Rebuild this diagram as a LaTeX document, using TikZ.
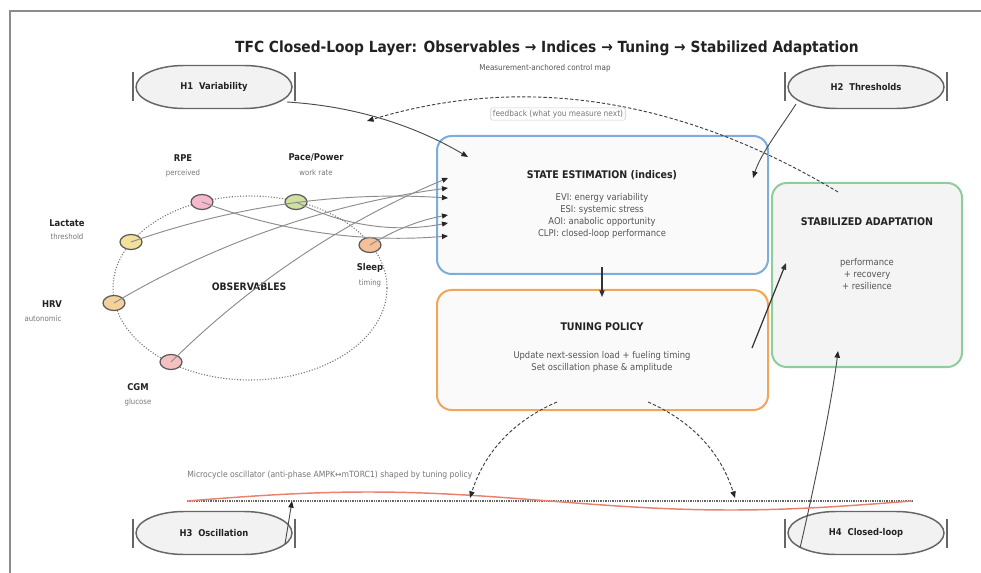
\documentclass[tikz,border=0pt]{standalone}
\usepackage{fontspec}
\setmainfont{DejaVu Sans Condensed}
\usetikzlibrary{arrows.meta,shapes.geometric}
\definecolor{txtdark}{HTML}{222222}
\definecolor{txtmid}{HTML}{555555}
\definecolor{txtlight}{HTML}{777777}
\definecolor{seblue}{HTML}{7DAEDB}
\definecolor{tporange}{HTML}{F2A65A}
\definecolor{sagreen}{HTML}{8FCE9C}
\definecolor{boxfill}{HTML}{FAFAFA}
\definecolor{safill}{HTML}{F4F4F4}
\definecolor{pillfill}{HTML}{F2F2F2}
\definecolor{pilldraw}{HTML}{666666}
\definecolor{cRPE}{HTML}{F5B8CC}
\definecolor{cPace}{HTML}{CFE0A0}
\definecolor{cLac}{HTML}{F3E09A}
\definecolor{cHRV}{HTML}{F4D09A}
\definecolor{cCGM}{HTML}{F5C0C0}
\definecolor{cSlp}{HTML}{F5BF98}
\definecolor{oscred}{HTML}{E8826E}
\tikzset{
  frameline/.style={draw=black!45, line width=1.5pt},
  bigbox/.style={rectangle, rounded corners=11pt, line width=1.5pt, fill=boxfill, inner sep=0pt},
  hpill/.style={draw=pilldraw, fill=pillfill, line width=1.1pt},
  hbar/.style={draw=pilldraw, line width=0.9pt},
  hlabel/.style={font=\fontsize{7}{8}\selectfont\bfseries, text=txtdark, inner sep=1pt},
  obscirc/.style={ellipse, draw=black!65, line width=0.9pt, minimum width=16.5pt, minimum height=11.25pt, inner sep=0pt},
  obslab/.style={font=\fontsize{7}{8}\selectfont\bfseries, text=txtdark, inner sep=0pt},
  obssub/.style={font=\fontsize{5.8}{7}\selectfont, text=txtlight, inner sep=0pt},
  boxtitle/.style={font=\fontsize{7.9}{9}\selectfont\bfseries, text=txtdark, inner sep=0pt},
  boxbody/.style={font=\fontsize{7}{9}\selectfont, text=txtmid, align=center, inner sep=0pt},
  obsline/.style={draw=black!45, line width=0.7pt, -{Triangle[length=4.5pt,width=3.8pt,color=black!85]}},
  mainarrow/.style={draw=black!80, line width=0.9pt, -{Triangle[length=5pt,width=4pt]}},
  thinarrow/.style={draw=black!70, line width=0.7pt, -{Triangle[length=5pt,width=4pt,color=black!85]}},
  dasharrow/.style={draw=black!75, line width=0.7pt, dash pattern=on 2.5pt off 1.5pt, -{Triangle[length=5pt,width=4pt,color=black!85]}},
  dottedring/.style={draw=black!55, line width=0.8pt, dash pattern=on 0.8pt off 1.3pt},
}
\newcommand\Hpill[4]{%
  \draw[hpill] ({#2-30},{#3-21.5}) -- ({#2+30},{#3-21.5})
     arc[start angle=90,end angle=-90,x radius=36pt,y radius=16.125pt]
     -- ({#2-30},{#3+21.5})
     arc[start angle=270,end angle=90,x radius=36pt,y radius=16.125pt] -- cycle;
  \draw[hbar] ({#2-81},{#3-14.5}) -- ({#2-81},{#3+14.5});
  \draw[hbar] ({#2+81},{#3-14.5}) -- ({#2+81},{#3+14.5});
  \node[hlabel] (#1) at (#2,#3) {#4};
}
\begin{document}
\begin{tikzpicture}[x=0.75pt,y=-0.75pt]
\useasboundingbox (0,0) rectangle (981,573);
\fill[white] (0,0) rectangle (981,573);
\draw[frameline] (10,573) -- (10,11) -- (981,11);

% title
\node[font=\fontsize{11.5}{13}\selectfont\bfseries, text=txtdark, inner sep=0pt] (title) at (547,48)
  {TFC Closed-Loop Layer: Observables → Indices → Tuning → Stabilized Adaptation};
\node[font=\fontsize{6}{7}\selectfont, text=txtmid, inner sep=0pt] (subtitle) at (545,68) {Measurement-anchored control map};

% hypothesis pills
\Hpill{h1}{214}{87}{H1\ \ Variability}
\Hpill{h2}{866}{87}{H2\ \ Thresholds}
\Hpill{h3}{214}{533}{H3\ \ Oscillation}
\Hpill{h4}{866}{533}{H4\ \ Closed-loop}

% main boxes
\node[bigbox, draw=seblue, minimum width=248.25pt, minimum height=103.5pt] (se) at (602.5,205) {};
\node[bigbox, draw=tporange, minimum width=248.25pt, minimum height=90pt] (tp) at (602.5,350) {};
\node[bigbox, draw=sagreen, fill=safill, minimum width=142.5pt, minimum height=138pt] (sa) at (867,275) {};

\node[boxtitle] (setitle) at (602,175) {STATE ESTIMATION (indices)};
\node[boxbody] (sebody) at (602,216) {EVI: energy variability\\ESI: systemic stress\\AOI: anabolic opportunity\\CLPI: closed-loop performance};
\node[boxtitle] (tptitle) at (602,327) {TUNING POLICY};
\node[boxbody] (tpbody) at (602,362) {Update next-session load + fueling timing\\Set oscillation phase \& amplitude};
\node[boxtitle] (satitle) at (867,222) {STABILIZED ADAPTATION};
\node[boxbody] (sabody) at (867,274) {performance\\+ recovery\\+ resilience};

% observables ring
\draw[dottedring] (250,288) ellipse[x radius=102.75pt, y radius=69pt];
\node[font=\fontsize{7.7}{9}\selectfont\bfseries, text=txtdark, inner sep=0pt] (obs) at (249,287) {OBSERVABLES};

\node[obscirc, fill=cRPE] (rpe) at (202,202) {};
\node[obscirc, fill=cPace] (pace) at (296,202) {};
\node[obscirc, fill=cLac] (lac) at (131,242) {};
\node[obscirc, fill=cHRV] (hrv) at (114,303) {};
\node[obscirc, fill=cCGM] (cgm) at (171,362) {};
\node[obscirc, fill=cSlp] (slp) at (370,245) {};

\node[obslab] (rpel) at (183,158) {RPE};
\node[obssub] (rpes) at (183,173) {perceived};
\node[obslab] (pacel) at (316,158) {Pace/Power};
\node[obssub] (paces) at (316,173) {work rate};
\node[obslab] (lacl) at (67,223) {Lactate};
\node[obssub] (lacs) at (67,237) {threshold};
\node[obslab] (hrvl) at (52,304) {HRV};
\node[obssub] (hrvs) at (43,319) {autonomic};
\node[obslab] (cgml) at (138,387) {CGM};
\node[obssub] (cgms) at (138,402) {glucose};
\node[obslab] (slpl) at (370,268) {Sleep};
\node[obssub] (slps) at (370,283) {timing};

% arrow targets on state box
\coordinate (t1) at (448,178);
\coordinate (t2) at (448,188);
\coordinate (t3) at (448,198);
\coordinate (t4) at (448,215);
\coordinate (t5) at (448,223);
\coordinate (t6) at (448,236);

\draw[obsline] (cgm.center) .. controls +(80,-79) and +(-104,43) .. (t1);
\draw[obsline] (hrv.center) .. controls +(103,-61) and +(-119,16) .. (t2);
\draw[obsline] (lac.center) .. controls +(103,-36) and +(-108,-7) .. (t3);
\draw[obsline] (slp.center) .. controls +(24,-15) and +(-28,5) .. (t4);
\draw[obsline] (pace.center) .. controls +(48,24) and +(-53,10) .. (t5);
\draw[obsline] (rpe.center) .. controls +(79,30) and +(-84,7) .. (t6);

% hypothesis arrows
\coordinate (h1s) at (287,102);
\coordinate (h1e) at (468,157);
\draw[thinarrow] (h1s) .. controls +(65,4) and +(-56,-33) .. (h1e);
\coordinate (h2s) at (796,104);
\coordinate (h2e) at (753,178);
\draw[thinarrow] (h2s) .. controls +(-14,22) and +(8,-25) .. (h2e);

% feedback
\coordinate (fbs) at (838,192);
\coordinate (fbe) at (367,121);
\draw[dasharrow] (fbs) .. controls +(-159,-95) and +(155,-47) .. (fbe);
\node[draw=black!20, fill=white, rounded corners=1pt, inner sep=1.6pt, font=\fontsize{6.2}{7}\selectfont, text=txtlight] (fb) at (558,114) {feedback (what you measure next)};

% main flow
\coordinate (se2tp) at (602,267);
\coordinate (tpin) at (602,297);
\draw[mainarrow] (se2tp) -- (tpin);
\coordinate (tp2sa) at (752,348);
\coordinate (sain) at (786,263);
\draw[mainarrow] (tp2sa) -- (sain);
\coordinate (h4s) at (800,548);
\coordinate (h4e) at (838,351);
\draw[thinarrow] (h4s) .. controls +(14,-60) and +(-6,50) .. (h4e);

% oscillator
\node[font=\fontsize{6.4}{7}\selectfont, text=txtlight, anchor=west, inner sep=0pt] (osccap) at (187,475)
  {Microcycle oscillator (anti-phase AMPK↔mTORC1) shaped by tuning policy};
\draw[draw=black!60, line width=0.8pt, dash pattern=on 0.6pt off 0.7pt] (187,501) -- (912,501);
\draw[draw=oscred, line width=1.1pt] plot[domain=0:360, samples=120, smooth] ({187+2.013889*\x},{501-9*sin(\x)});

\coordinate (tpl) at (557,402);
\coordinate (oscl) at (470,498);
\draw[dasharrow] (tpl) .. controls +(-44,19) and +(14,-45) .. (oscl);
\coordinate (tpr) at (648,402);
\coordinate (oscr) at (735,498);
\draw[dasharrow] (tpr) .. controls +(44,19) and +(-14,-45) .. (oscr);

\coordinate (h3s) at (285,544);
\coordinate (h3e) at (292,501);
\draw[thinarrow] (h3s) -- (h3e);
\end{tikzpicture}
\end{document}
